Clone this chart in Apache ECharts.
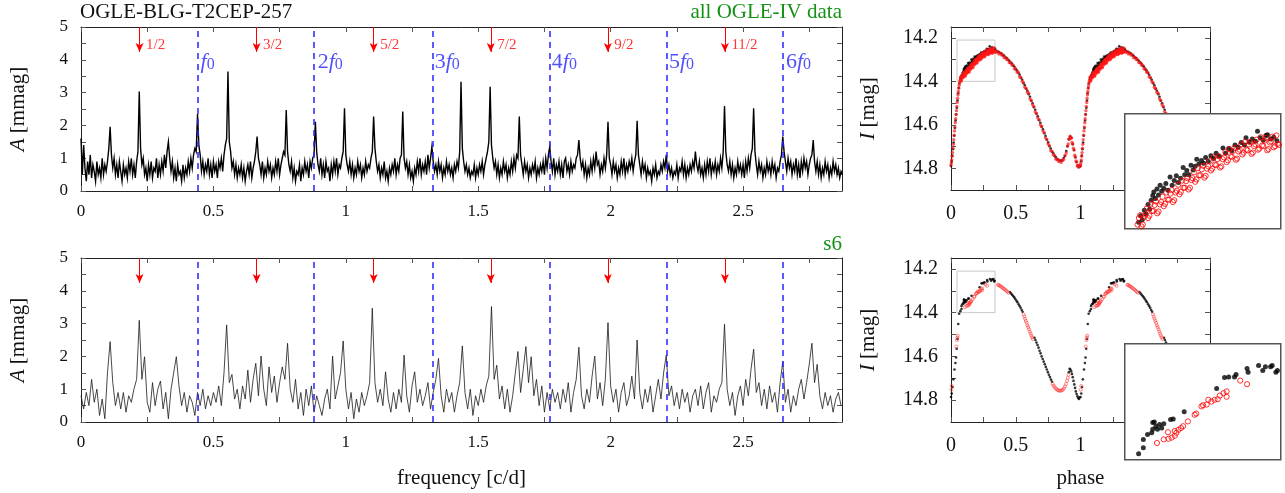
<!DOCTYPE html>
<html><head><meta charset="utf-8">
<script src="https://cdn.jsdelivr.net/npm/echarts@6/dist/echarts.min.js"></script>
<style>html,body{margin:0;padding:0;background:#fff}#c{width:1285px;height:493px}</style>
</head><body><div id="c"></div>
<script>
// ---------------- data ----------------
const f0 = 0.4421;                       // fundamental frequency [c/d]
const harmonicOrders = [1, 2, 3, 4, 5, 6];
const harmonicLabels = ['', '2', '3', '4', '5', '6'];
const halfOrders = [0.5, 1.5, 2.5, 3.5, 4.5, 5.5];
const halfLabels = ['1/2', '3/2', '5/2', '7/2', '9/2', '11/2'];

const freqLabels = [0, 0.5, 1, 1.5, 2, 2.5];
const freqTicks = [0, 0.25, 0.5, 0.75, 1, 1.25, 1.5, 1.75, 2, 2.25, 2.5, 2.75];
const ampLabels = [0, 1, 2, 3, 4, 5];
const ampTicks = [0, 0.5, 1, 1.5, 2, 2.5, 3, 3.5, 4, 4.5, 5];
const phaseLabels = [0, 0.5, 1, 1.5, 2];
const phaseTicks = [0, 0.25, 0.5, 0.75, 1, 1.25, 1.5, 1.75, 2];
const magLabels = [14.2, 14.4, 14.6, 14.8];
const magTicks = [14.2, 14.3, 14.4, 14.5, 14.6, 14.7, 14.8];

// amplitude spectrum, all OGLE-IV data (frequency grid step 0.005 c/d from 0)
const freqStepAll = 0.005;
const ampAll = [
1.6,0.5,1.4,0.7,0.3,0.9,0.5,1.1,0.4,0.8,0.6,0.3,0.9,0.5,0.7,0.4,1.0,0.5,0.8,0.6,
0.9,1.3,1.96,1.1,0.7,1.0,0.5,0.8,0.4,0.9,0.6,0.3,0.8,0.5,0.7,0.4,0.9,0.6,1.0,0.5,
0.8,0.4,0.9,1.2,3.03,1.3,0.8,1.0,0.5,0.7,0.3,0.8,0.5,0.9,0.4,0.7,0.6,1.0,0.4,0.8,
0.5,0.9,0.6,1.1,0.7,1.2,1.5,1.0,0.6,0.9,0.4,0.7,0.3,0.8,0.5,0.6,0.3,0.8,0.4,0.7,
0.5,0.9,0.6,1.0,0.7,1.1,1.3,1.2,2.35,1.4,1.1,0.6,0.9,0.5,0.8,0.6,1.0,0.5,0.8,0.4,
0.9,0.6,0.8,0.4,0.9,0.7,1.0,0.6,1.1,1.4,1.6,3.64,1.5,1.2,0.7,0.9,0.5,0.8,0.4,0.7,
0.5,0.8,0.4,0.7,0.3,0.6,0.8,0.5,0.9,0.4,0.7,0.9,1.2,1.66,1.0,0.8,0.5,0.9,0.4,0.7,
0.5,0.9,0.6,0.8,0.4,0.7,0.5,0.9,0.6,1.0,0.5,0.8,1.0,1.2,1.1,2.47,1.2,0.8,0.6,0.9,
0.4,0.7,0.3,0.6,0.5,0.8,0.3,0.7,0.5,0.9,0.6,0.8,0.4,0.9,0.7,1.0,1.1,2.11,1.2,0.8,
0.6,1.0,0.5,0.8,0.4,0.9,0.6,0.7,0.3,0.8,0.5,0.9,0.6,1.0,0.5,0.8,0.7,1.0,1.2,2.52,
1.1,0.8,0.6,0.9,0.5,0.8,0.4,0.7,0.5,0.9,0.6,0.8,0.4,0.7,0.5,0.9,0.6,0.8,0.7,1.0,
1.2,2.27,1.3,0.9,0.6,0.8,0.4,0.7,0.5,0.9,0.4,0.6,0.3,0.7,0.5,0.8,0.6,1.0,0.5,0.8,
0.6,1.0,1.1,2.42,1.0,0.7,0.9,0.5,0.8,0.4,0.6,0.3,0.7,0.5,0.9,0.6,1.0,0.5,0.8,0.6,
0.9,0.5,1.1,0.7,1.0,1.35,0.9,0.6,0.8,0.5,0.9,0.6,0.8,0.4,0.7,0.5,0.9,0.6,0.8,0.5,
0.7,0.4,0.8,0.6,0.9,0.7,1.2,3.33,1.3,0.9,0.6,0.8,0.5,0.7,0.4,0.6,0.5,0.8,0.4,0.7,
0.5,0.8,0.6,0.9,0.5,0.8,1.0,1.2,1.5,3.18,1.4,1.0,0.7,0.9,0.5,0.8,0.4,0.7,0.5,0.9,
0.6,0.8,0.4,0.7,0.5,0.9,0.6,1.0,0.7,1.1,1.0,2.27,1.1,0.8,0.5,0.9,0.6,0.8,0.4,0.7,
0.5,0.8,0.6,0.9,0.4,0.7,0.5,0.8,0.6,0.9,0.5,1.0,0.7,1.1,1.35,0.9,0.6,1.0,0.5,0.8,
0.6,0.9,0.5,0.8,0.4,0.9,1.0,0.6,0.8,0.5,0.9,0.6,0.8,0.7,1.0,1.1,1.55,1.0,0.7,0.9,
0.5,0.8,0.4,0.7,0.5,0.9,0.6,1.0,0.7,1.2,0.8,0.9,0.5,0.8,0.6,1.0,0.7,1.1,2.11,1.0,
0.8,0.5,0.9,0.6,0.8,0.4,0.7,0.5,0.9,0.6,1.0,0.5,0.8,0.6,0.9,0.7,1.0,0.6,0.9,1.1,
2.14,1.1,0.8,0.5,0.9,0.6,0.8,0.4,0.7,0.5,0.6,0.3,0.7,0.5,0.8,0.4,0.6,0.5,0.8,0.6,
0.9,0.7,1.1,0.6,0.8,0.5,0.7,0.4,0.6,0.5,0.8,0.4,0.7,0.6,0.9,0.5,0.8,0.4,0.7,0.5,
0.8,0.6,0.9,0.7,1.2,0.8,0.6,0.9,0.5,0.7,0.4,0.8,0.5,0.9,0.6,1.0,0.5,0.8,0.6,0.9,
0.5,0.8,0.6,1.0,0.7,1.2,2.59,1.2,0.8,0.6,0.9,0.5,0.8,0.4,0.7,0.5,0.9,0.6,0.8,0.5,
0.8,0.4,0.9,0.6,1.0,0.7,1.1,1.3,2.52,1.2,0.8,0.5,0.9,0.6,0.8,0.4,0.7,0.5,0.9,0.6,
0.8,0.5,0.9,0.6,0.8,0.4,0.7,0.6,0.9,1.1,1.66,1.2,0.9,0.6,1.0,0.7,0.9,0.5,0.8,0.6,
1.0,0.5,0.8,0.4,0.9,0.6,1.0,0.7,0.9,0.5,0.8,1.0,1.1,1.55,0.9,0.6,0.9,0.5,0.8,0.4,
0.7,0.5,0.9,0.6,0.8,0.4,0.7,0.5,0.9,0.6,0.8,0.5,0.7,0.4,0.6,0.5
];

// amplitude spectrum, season s6 (frequency grid step 0.01 c/d from 0)
const freqStepS6 = 0.01;
const ampS6 = [
0.8,0.4,0.9,0.5,1.3,0.6,1.0,0.2,0.7,0.1,
1.5,2.45,1.2,0.5,0.9,0.4,0.9,0.3,0.8,0.6,
1.0,1.3,3.1,1.3,1.99,0.6,0.3,1.2,0.5,1.0,
1.25,0.4,0.9,0.1,1.0,1.5,1.99,1.1,0.5,0.9,
0.3,0.8,0.6,0.2,0.9,0.5,1.0,0.4,0.8,0.5,
0.9,0.6,1.1,0.5,1.5,2.96,1.2,1.45,0.7,1.0,
0.4,1.1,0.7,1.58,0.6,1.3,1.79,0.8,2.01,1.0,
0.5,1.68,0.9,1.4,0.6,1.2,1.68,1.3,2.4,1.0,
0.6,1.3,0.4,0.9,0.2,1.0,0.5,1.1,0.3,0.8,
0.5,0.2,0.7,1.0,0.4,2.01,0.7,1.1,1.5,2.47,
1.0,0.4,0.9,0.1,0.7,0.3,0.9,0.5,0.8,1.2,
3.47,1.2,0.6,1.0,0.5,1.53,0.7,0.3,0.9,0.4,
1.0,0.6,2.04,0.8,0.3,1.1,1.53,0.6,1.0,0.5,
0.8,1.2,0.4,0.9,1.3,1.94,0.8,0.3,1.0,0.6,
0.9,0.3,0.8,1.2,2.32,0.9,0.4,1.0,0.2,0.8,
0.5,1.0,0.6,1.1,1.4,3.52,1.3,1.73,0.7,1.1,
0.4,1.0,0.3,0.8,1.5,2.15,0.9,1.6,2.3,1.2,
1.99,0.8,1.3,0.5,1.1,0.3,0.9,0.4,1.0,0.6,
0.9,0.4,1.0,0.6,1.2,0.3,0.9,1.3,2.28,0.8,
0.4,1.0,0.6,1.4,2.01,0.7,1.2,0.5,1.3,3.03,
1.1,0.6,1.0,0.3,0.9,1.2,0.5,0.8,1.4,0.7,
2.5,0.9,0.4,1.0,0.6,1.1,0.3,0.8,1.3,0.7,
1.5,2.04,0.8,1.1,0.5,0.9,0.4,1.0,0.6,0.9,
0.3,0.8,1.0,0.5,1.1,0.4,0.9,1.2,0.3,0.8,
0.6,1.0,1.2,2.98,1.0,0.5,0.9,0.2,0.8,1.1,
0.5,1.3,0.8,1.6,2.22,0.9,1.2,0.5,1.0,0.4,
1.1,0.6,0.9,0.3,1.2,1.84,0.6,1.0,0.3,0.8,
0.5,1.0,1.3,0.7,1.2,1.76,2.4,1.2,1.76,0.8,
0.4,0.9,0.5,0.8,0.3,0.7,0.9,0.5
];

// light curve, all OGLE-IV data: [phase, I mag]
const lcAllBlack = [
[0.000,14.790],[0.005,14.768],[0.010,14.742],[0.015,14.712],[0.020,14.682],[0.025,14.650],[0.030,14.615],[0.035,14.580],[0.040,14.552],[0.045,14.522],[0.050,14.488],[0.055,14.455],[0.060,14.430],[0.065,14.410],
[0.072,14.392],[0.076,14.381],[0.079,14.388],[0.083,14.372],[0.086,14.378],[0.090,14.362],[0.093,14.370],[0.096,14.355],[0.099,14.347],[0.101,14.341],[0.104,14.352],[0.107,14.336],[0.110,14.346],[0.113,14.330],[0.116,14.340],[0.120,14.335],[0.124,14.327],[0.128,14.338],[0.132,14.316],[0.136,14.330],[0.140,14.322],[0.144,14.314],[0.148,14.325],[0.152,14.318],[0.157,14.300],[0.160,14.312],[0.164,14.305],[0.168,14.312],[0.172,14.296],[0.176,14.304],[0.180,14.298],[0.183,14.286],[0.187,14.294],[0.192,14.288],[0.196,14.293],[0.200,14.283],[0.205,14.290],[0.210,14.280],[0.215,14.285],[0.220,14.276],[0.226,14.281],[0.233,14.267],[0.238,14.276],[0.244,14.268],[0.250,14.272],[0.256,14.262],[0.262,14.266],[0.268,14.258],[0.274,14.262],[0.277,14.250],[0.283,14.257],[0.289,14.252],[0.295,14.256],[0.299,14.239],[0.304,14.250],[0.310,14.254],[0.315,14.246],[0.318,14.245],[0.324,14.252],[0.330,14.249],[0.336,14.255],[0.341,14.251],
[0.35,14.260],[0.36,14.265],[0.37,14.265],[0.38,14.270],[0.39,14.272],[0.40,14.280],[0.41,14.282],[0.42,14.290],[0.43,14.293],[0.44,14.302],[0.45,14.305],[0.46,14.314],[0.47,14.318],[0.48,14.328],[0.49,14.333],[0.50,14.344],[0.51,14.350],[0.52,14.362],[0.53,14.370],[0.54,14.384],[0.55,14.393],[0.56,14.409],[0.57,14.418],[0.58,14.434],[0.59,14.443],[0.60,14.459],[0.61,14.471],[0.62,14.489],[0.63,14.501],[0.64,14.519],[0.65,14.531],[0.66,14.549],[0.67,14.561],[0.68,14.579],[0.69,14.591],[0.70,14.609],[0.71,14.621],[0.72,14.639],[0.73,14.651],[0.74,14.669],[0.75,14.681],[0.76,14.699],[0.77,14.709],[0.78,14.724],[0.79,14.731],[0.80,14.744],[0.81,14.749],[0.82,14.759],[0.83,14.761],[0.84,14.767],[0.85,14.764],[0.86,14.764],[0.87,14.753],[0.88,14.744],[0.89,14.721],[0.90,14.699],[0.91,14.666],[0.92,14.654],[0.93,14.661],[0.94,14.689],[0.95,14.716],[0.96,14.749],[0.97,14.771],[0.98,14.789],[0.99,14.794]
];
const lcAllRed = [
[0.000,14.785],[0.003,14.776],[0.006,14.762],[0.009,14.745],[0.012,14.728],[0.015,14.708],[0.018,14.690],[0.021,14.668],[0.024,14.648],[0.027,14.628],[0.030,14.610],[0.033,14.590],[0.036,14.572],[0.039,14.553],[0.042,14.535],[0.045,14.515],[0.048,14.497],[0.051,14.478],[0.054,14.462],[0.057,14.447],[0.060,14.432],[0.063,14.418],[0.066,14.405],
[0.070,14.396],[0.075,14.380],[0.080,14.396],[0.085,14.379],[0.090,14.385],[0.095,14.361],[0.100,14.373],[0.105,14.357],[0.110,14.374],[0.115,14.358],[0.120,14.365],[0.125,14.342],[0.130,14.354],[0.135,14.338],[0.140,14.355],[0.145,14.339],[0.150,14.345],[0.155,14.322],[0.160,14.334],[0.165,14.318],[0.170,14.334],[0.175,14.318],[0.180,14.324],[0.185,14.301],[0.190,14.313],[0.195,14.297],[0.200,14.314],[0.205,14.298],[0.210,14.305],[0.215,14.283],[0.220,14.296],[0.225,14.281],[0.230,14.298],[0.235,14.283],[0.240,14.291],[0.245,14.269],[0.250,14.282],[0.255,14.267],[0.260,14.285],[0.265,14.270],[0.270,14.278],[0.275,14.257],[0.280,14.271],[0.285,14.257],[0.290,14.275],[0.295,14.261],[0.300,14.270],[0.305,14.249],[0.310,14.264],[0.315,14.250],[0.320,14.269],[0.325,14.256],[0.330,14.266],[0.335,14.246],[0.340,14.262],
[0.0725,14.385],[0.0775,14.399],[0.0825,14.383],[0.0875,14.369],[0.0925,14.381],[0.0975,14.373],[0.1025,14.363],[0.1075,14.377],[0.1125,14.362],[0.1175,14.349],[0.1225,14.361],[0.1275,14.354],[0.1325,14.344],[0.1375,14.358],[0.1425,14.342],[0.1475,14.329],[0.1525,14.341],[0.1575,14.334],[0.1625,14.323],[0.1675,14.337],[0.1725,14.321],[0.1775,14.308],[0.1825,14.320],[0.1875,14.313],[0.1925,14.303],[0.1975,14.317],[0.2025,14.302],[0.2075,14.289],[0.2125,14.302],[0.2175,14.295],[0.2225,14.286],[0.2275,14.300],[0.2325,14.286],[0.2375,14.274],[0.2425,14.288],[0.2475,14.281],[0.2525,14.272],[0.2575,14.287],[0.2625,14.273],[0.2675,14.261],[0.2725,14.275],[0.2775,14.270],[0.2825,14.261],[0.2875,14.277],[0.2925,14.264],[0.2975,14.253],[0.3025,14.268],[0.3075,14.263],[0.3125,14.255],[0.3175,14.271],[0.3225,14.258],[0.3275,14.248],[0.3325,14.264],[0.3375,14.260],
[0.35,14.267],[0.36,14.262],[0.37,14.274],[0.38,14.270],[0.39,14.279],[0.40,14.277],[0.41,14.291],[0.42,14.290],[0.43,14.300],[0.44,14.299],[0.45,14.314],[0.46,14.313],[0.47,14.325],[0.48,14.326],[0.49,14.342],[0.50,14.343],[0.51,14.357],[0.52,14.359],[0.53,14.379],[0.54,14.383],[0.55,14.400],[0.56,14.406],[0.57,14.427],[0.58,14.433],[0.59,14.450],[0.60,14.456],[0.61,14.480],[0.62,14.488],[0.63,14.508],[0.64,14.516],[0.65,14.540],[0.66,14.548],[0.67,14.568],[0.68,14.576],[0.69,14.600],[0.70,14.608],[0.71,14.628],[0.72,14.636],[0.73,14.660],[0.74,14.668],[0.75,14.688],[0.76,14.696],[0.77,14.718],[0.78,14.723],[0.79,14.738],[0.80,14.741],[0.81,14.758],[0.82,14.758],[0.83,14.768],[0.84,14.764],[0.85,14.773],[0.86,14.763],[0.87,14.760],[0.88,14.741],[0.89,14.730],[0.90,14.698],[0.905,14.688],[0.91,14.666],[0.915,14.665],[0.92,14.653],[0.925,14.660],[0.93,14.661],[0.935,14.681],[0.94,14.688],[0.945,14.708],[0.95,14.716],[0.955,14.740],[0.96,14.748],[0.965,14.766],[0.97,14.771],[0.975,14.788],[0.98,14.788],[0.985,14.795],[0.99,14.786],[0.995,14.791]
];

// light curve, season s6: [phase, I mag]
const lcS6Black = [
[0.000,14.786],[0.006,14.770],[0.012,14.740],[0.018,14.705],[0.027,14.660],[0.034,14.630],[0.039,14.605],[0.044,14.565],[0.050,14.520],[0.056,14.452],[0.063,14.405],
[0.072,14.393],[0.081,14.383],[0.081,14.369],[0.089,14.361],[0.097,14.358],[0.099,14.352],[0.105,14.347],[0.108,14.352],[0.099,14.341],[0.102,14.340],[0.112,14.344],[0.116,14.350],[0.120,14.343],[0.133,14.336],[0.138,14.335],[0.159,14.323],[0.221,14.284],[0.236,14.266],[0.244,14.265],[0.255,14.265],[0.258,14.261],[0.279,14.251],[0.281,14.257],[0.301,14.246],[0.309,14.254],[0.314,14.248],[0.324,14.248],[0.327,14.246],[0.334,14.257],[0.337,14.254],
[0.455,14.306],[0.463,14.312],[0.472,14.318],[0.480,14.324],[0.488,14.330],[0.496,14.337],[0.505,14.345],[0.513,14.352],[0.522,14.362],[0.530,14.370],[0.538,14.378],[0.546,14.388],[0.553,14.396],
[0.645,14.515],[0.652,14.525],[0.660,14.537],[0.668,14.548],[0.676,14.560],[0.684,14.574],[0.692,14.586],[0.700,14.600],[0.708,14.612],[0.716,14.624],[0.724,14.636],[0.732,14.648],[0.740,14.660],[0.748,14.672],[0.756,14.684],[0.764,14.694],[0.772,14.706],[0.780,14.716],
[0.910,14.672],[0.916,14.657],[0.922,14.660],[0.928,14.668],[0.934,14.680],[0.940,14.695],[0.946,14.712],[0.952,14.728],[0.958,14.744],[0.964,14.760],[0.970,14.772],[0.976,14.782],[0.982,14.790],[0.988,14.795],[0.994,14.788]
];
const lcS6Red = [
[0.003,14.752],[0.006,14.735],[0.040,14.555],[0.046,14.525],[0.049,14.513],[0.052,14.505],
[0.107,14.375],[0.120,14.369],[0.129,14.368],[0.128,14.357],[0.135,14.366],[0.141,14.363],[0.144,14.358],[0.141,14.355],[0.148,14.353],[0.153,14.350],[0.157,14.347],[0.166,14.339],[0.179,14.328],[0.182,14.326],[0.192,14.314],[0.195,14.312],[0.202,14.311],[0.205,14.303],[0.211,14.306],[0.217,14.303],[0.223,14.302],[0.227,14.296],[0.234,14.292],[0.240,14.289],[0.240,14.298],[0.266,14.271],[0.279,14.277],
[0.362,14.272],[0.368,14.274],[0.375,14.276],[0.382,14.279],[0.389,14.282],[0.396,14.285],[0.404,14.289],[0.412,14.292],[0.420,14.296],[0.428,14.300],[0.436,14.305],[0.444,14.309],
[0.560,14.408],[0.566,14.418],[0.572,14.428],[0.578,14.438],[0.584,14.447],[0.590,14.458],[0.596,14.466],[0.602,14.476],[0.608,14.486],[0.614,14.495],[0.620,14.504],[0.626,14.512],[0.632,14.520],
[0.785,14.726],[0.792,14.734],[0.800,14.740],[0.808,14.746],[0.816,14.750],[0.824,14.754],[0.832,14.756],[0.840,14.757],[0.848,14.757],[0.856,14.755],[0.864,14.752],[0.872,14.746],[0.880,14.738],[0.888,14.726],[0.896,14.712],[0.902,14.698],[0.908,14.684]
];

// zoomed region shown in the insets
const zoomPhase = [0.046, 0.34];
const zoomMag = [14.21, 14.40];

// ---------------- chart ----------------
const serif = "'Liberation Serif','DejaVu Serif','Times New Roman',serif";
const ink = '#111';
const frame = {show: true, onZero: false, lineStyle: {color: '#222', width: 1}};
const tickStyle = {color: '#555', width: 1};
const xMaxFreq = 6.5 * f0;

function spectrumPoints(amp, step) {
  return amp.map((a, i) => [Math.round(i * step * 1000) / 1000, a]);
}
function fold(arr) {
  return arr.concat(arr.map(([p, m]) => [Math.round((p + 1) * 10000) / 10000, m]));
}
function xAxisPair(grid, min, max, labels, ticks, fs, margin, name) {
  const bottom = {
    type: 'value', gridIndex: grid, position: 'bottom', min, max,
    axisLine: frame, splitLine: {show: false},
    axisTick: {show: true, inside: true, length: 5, lineStyle: tickStyle, customValues: ticks},
    axisLabel: {show: true, customValues: labels, fontFamily: serif, fontSize: fs, color: ink, margin}
  };
  if (name) {
    bottom.name = name; bottom.nameLocation = 'middle'; bottom.nameGap = 46;
    bottom.nameTextStyle = {fontFamily: serif, fontSize: 21, color: ink};
  }
  const top = {
    type: 'value', gridIndex: grid, position: 'top', min, max,
    axisLine: frame, splitLine: {show: false},
    axisTick: {show: true, inside: true, length: 5, lineStyle: tickStyle, customValues: ticks},
    axisLabel: {show: false}
  };
  return [bottom, top];
}
function yAxisPair(grid, min, max, labels, ticks, fs, margin, name, nameGap, inverse) {
  const left = {
    type: 'value', gridIndex: grid, position: 'left', min, max, inverse: !!inverse,
    axisLine: frame, splitLine: {show: false},
    axisTick: {show: true, inside: true, length: 5, lineStyle: tickStyle, customValues: ticks},
    axisLabel: {show: true, customValues: labels, fontFamily: serif, fontSize: fs, color: ink, margin},
    name, nameLocation: 'middle', nameGap, nameRotate: 90,
    nameTextStyle: {fontFamily: serif, fontSize: 21, color: ink,
      rich: {i: {fontStyle: 'italic', fontFamily: serif, fontSize: 21, color: ink}}}
  };
  const right = {
    type: 'value', gridIndex: grid, position: 'right', min, max, inverse: !!inverse,
    axisLine: frame, splitLine: {show: false},
    axisTick: {show: true, inside: true, length: 5, lineStyle: tickStyle, customValues: ticks},
    axisLabel: {show: false}
  };
  return [left, right];
}

function spectrumSeries(amp, step, ai, width, color) {
  return {
    type: 'line', xAxisIndex: ai, yAxisIndex: ai, data: spectrumPoints(amp, step),
    symbol: 'none', showSymbol: false, silent: true, z: 2,
    lineStyle: {color, width, join: 'miter'}
  };
}
function markerSeries(ai) {
  return [{
    type: 'line', xAxisIndex: ai, yAxisIndex: ai, data: [], z: 4, silent: true,
    markLine: {
      silent: true, symbol: 'none', label: {show: false}, animation: false,
      lineStyle: {color: '#2424ff', width: 1.5, type: [6, 5]},
      emphasis: {disabled: true},
      data: harmonicOrders.map(k => ({xAxis: k * f0}))
    }
  }, {
    type: 'line', xAxisIndex: ai, yAxisIndex: ai, data: [], z: 4, silent: true,
    markLine: {
      silent: true, symbol: ['none', 'arrow'], symbolSize: [6, 9], label: {show: false}, animation: false,
      lineStyle: {color: '#ff0000', width: 1, type: 'solid'},
      emphasis: {disabled: true},
      data: halfOrders.map(k => [{coord: [k * f0, 5]}, {coord: [k * f0, 4.24]}])
    }
  }];
}
function labelSeries(ai) {
  return [{
    type: 'scatter', xAxisIndex: ai, yAxisIndex: ai, z: 5, silent: true,
    symbolSize: 1, itemStyle: {color: 'rgba(0,0,0,0)'},
    data: halfOrders.map((k, i) => ({value: [k * f0, 4.45], label: {formatter: halfLabels[i]}})),
    label: {show: true, position: 'right', distance: 6, fontFamily: serif, fontSize: 15, color: '#ff0000'}
  }, {
    type: 'scatter', xAxisIndex: ai, yAxisIndex: ai, z: 5, silent: true,
    symbolSize: 1, itemStyle: {color: 'rgba(0,0,0,0)'},
    data: harmonicOrders.map((k, i) => ({value: [k * f0, 3.93],
      label: {formatter: (harmonicLabels[i] ? '{n|' + harmonicLabels[i] + '}' : '') + '{f|f}{s|0}'}})),
    label: {show: true, position: 'right', distance: 2, color: '#2424ff',
      rich: {
        n: {fontFamily: serif, fontSize: 22, color: '#2424ff'},
        f: {fontFamily: serif, fontSize: 22, fontStyle: 'italic', color: '#2424ff'},
        s: {fontFamily: serif, fontSize: 16, color: '#2424ff', verticalAlign: 'bottom', lineHeight: 8}
      }}
  }];
}
function lcSeries(ai, black, red, dense, inset) {
  const xi = ai, yi = ai;
  const z = inset ? 20 : 3;
  const bData = inset ? black : fold(black);
  const rData = inset ? red : fold(red);
  const out = [{
    type: 'scatter', xAxisIndex: xi, yAxisIndex: yi, data: bData, z, silent: true,
    symbol: 'circle', symbolSize: inset ? 5 : 2.6, itemStyle: {color: '#000'}
  }];
  if (inset || !dense) {
    out.push({
      type: 'scatter', xAxisIndex: xi, yAxisIndex: yi, data: rData, z: z + 1, silent: true,
      symbol: 'circle', symbolSize: inset ? 5.2 : 3,
      itemStyle: {color: 'rgba(0,0,0,0)', borderColor: inset ? '#ff0000' : '#ff3030', borderWidth: inset ? 1 : 0.7}
    });
  } else {
    out.push({
      type: 'scatter', xAxisIndex: xi, yAxisIndex: yi, data: rData, z: z + 1, silent: true,
      symbol: 'circle', symbolSize: 3.4, itemStyle: {color: 'rgba(255,20,20,0.85)'}
    });
  }
  return out;
}
function zoomBox(ai) {
  return {
    type: 'line', xAxisIndex: ai, yAxisIndex: ai, z: 2, silent: true, symbol: 'none',
    lineStyle: {color: '#c8c8c8', width: 1},
    data: [[zoomPhase[0], zoomMag[0]], [zoomPhase[1], zoomMag[0]], [zoomPhase[1], zoomMag[1]],
           [zoomPhase[0], zoomMag[1]], [zoomPhase[0], zoomMag[0]]]
  };
}

const grids = [
  {left: 80, top: 27, width: 762, height: 164},
  {left: 80, top: 258, width: 762, height: 164},
  {left: 951, top: 27, width: 259, height: 163},
  {left: 951, top: 258, width: 259, height: 164},
  {left: 1125, top: 114, width: 154, height: 113},
  {left: 1125, top: 344, width: 154, height: 114}
];

// axis indices: 0/1 grid0, 2/3 grid1, 4/5 grid2, 6/7 grid3, 8 grid4, 9 grid5
const xAxes = [
  ...xAxisPair(0, 0, xMaxFreq, freqLabels, freqTicks, 17, 12, null),
  ...xAxisPair(1, 0, xMaxFreq, freqLabels, freqTicks, 17, 12, 'frequency [c/d]'),
  ...xAxisPair(2, 0, 2, phaseLabels, phaseTicks, 20, 14, null),
  ...xAxisPair(3, 0, 2, phaseLabels, phaseTicks, 20, 14, 'phase'),
  {type: 'value', gridIndex: 4, min: zoomPhase[0], max: zoomPhase[1], show: false},
  {type: 'value', gridIndex: 5, min: zoomPhase[0], max: zoomPhase[1], show: false}
];
const yAxes = [
  ...yAxisPair(0, 0, 5, ampLabels, ampTicks, 17, 13, '{i|A} [mmag]', 52, false),
  ...yAxisPair(1, 0, 5, ampLabels, ampTicks, 17, 13, '{i|A} [mmag]', 52, false),
  ...yAxisPair(2, 14.15, 14.9, magLabels, magTicks, 20, 13, '{i|I} [mag]', 72, true),
  ...yAxisPair(3, 14.15, 14.9, magLabels, magTicks, 20, 13, '{i|I} [mag]', 72, true),
  {type: 'value', gridIndex: 4, min: zoomMag[0], max: zoomMag[1], inverse: true, show: false},
  {type: 'value', gridIndex: 5, min: zoomMag[0], max: zoomMag[1], inverse: true, show: false}
];

const series = [
  spectrumSeries(ampAll, freqStepAll, 0, 1.4, '#000'),
  ...markerSeries(0), ...labelSeries(0),
  spectrumSeries(ampS6, freqStepS6, 2, 0.8, '#1a1a1a'),
  ...markerSeries(2),
  zoomBox(4), ...lcSeries(4, lcAllBlack, lcAllRed, true, false),
  zoomBox(6), ...lcSeries(6, lcS6Black, lcS6Red, false, false),
  ...lcSeries(8, lcAllBlack, lcAllRed, true, true),
  ...lcSeries(9, lcS6Black, lcS6Red, false, true)
];

const titleStyle = {fontFamily: serif, fontSize: 21, fontWeight: 'normal', color: ink};
const green = '#159215';
const option = {
  animation: false,
  backgroundColor: '#fff',
  title: [
    {text: 'OGLE-BLG-T2CEP-257', left: 80, top: 2, padding: 0, textStyle: titleStyle},
    {text: 'all OGLE-IV data', right: 443, top: 2, padding: 0, textStyle: Object.assign({}, titleStyle, {color: green})},
    {text: 's6', right: 443, top: 234, padding: 0, textStyle: Object.assign({}, titleStyle, {color: green})}
  ],
  grid: grids,
  xAxis: xAxes,
  yAxis: yAxes,
  graphic: [
    {type: 'rect', left: 1124, top: 113, z: 10, shape: {width: 156, height: 115},
     style: {fill: '#fff', stroke: '#555', lineWidth: 1.5}},
    {type: 'rect', left: 1124, top: 343, z: 10, shape: {width: 156, height: 116},
     style: {fill: '#fff', stroke: '#555', lineWidth: 1.5}}
  ],
  series
};
const chart = echarts.init(document.getElementById('c'), null, {renderer: 'canvas'});
chart.setOption(option);
</script>
</body></html>
